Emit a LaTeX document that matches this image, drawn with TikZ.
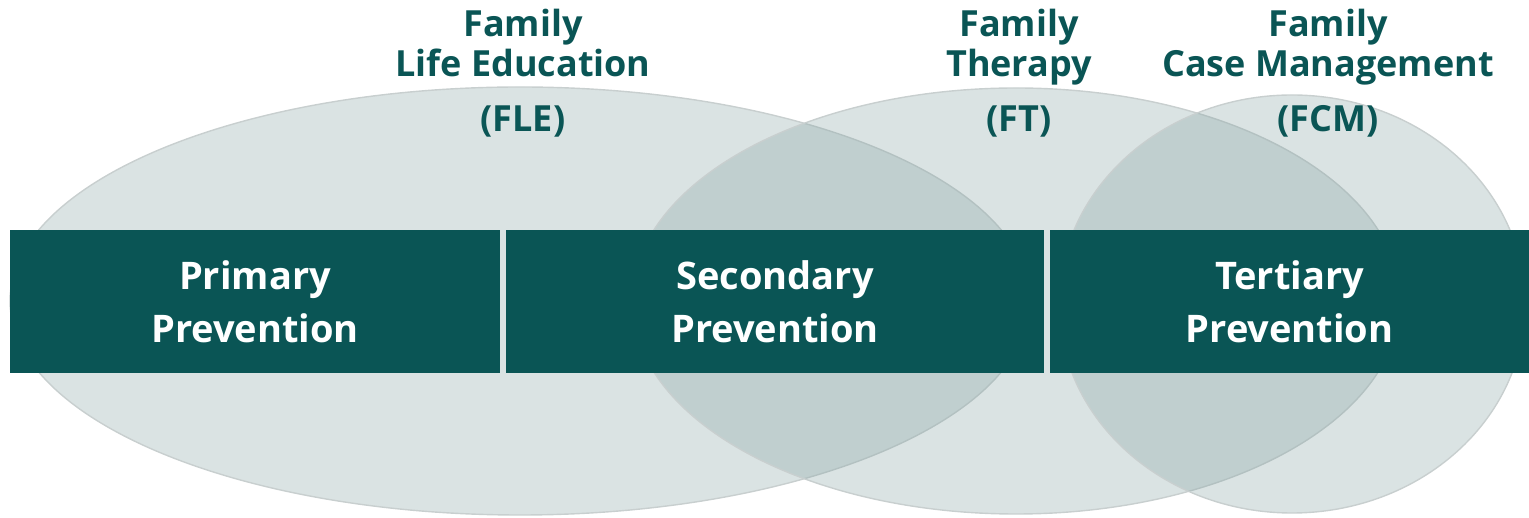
\documentclass[tikz,border=0pt]{standalone}
\usepackage{fontspec}
\setmainfont{Open Sans}
\usepackage{tikz}
\definecolor{verde}{HTML}{0A5555}
\definecolor{gris}{HTML}{84A2A2}
\definecolor{borde}{HTML}{C8CFCF}

\begin{document}
\begin{tikzpicture}[x=0.5pt,y=0.5pt,
  elipse/.style={fill=gris, fill opacity=0.3, draw=borde, line width=0.7pt},
  banda/.style={fill=verde, text=white, inner sep=0pt, minimum height=71.5pt,
    align=center, font=\bfseries\fontsize{19}{26.5}\selectfont},
  titulo/.style={text=verde, inner sep=0pt, anchor=base,
    font=\bfseries\fontsize{18}{21}\selectfont}]
  % Marco
  \useasboundingbox (0,0) rectangle (1529,518);
  % Elipses
  \path[elipse] (520,217) ellipse [x radius=510, y radius=214];
  \path[elipse] (1016,217) ellipse [x radius=384, y radius=213];
  \path[elipse] (1292,214) ellipse [x radius=233, y radius=209];
  % Banda de prevencion
  \foreach \x/\w/\txt/\n in {255/245/Primary/pri, 775/269/Secondary/sec, 1289.5/239.5/Tertiary/ter}
    \node[banda, minimum width=\w pt] (\n) at (\x,216.5) {\txt\\Prevention};
  % Titulos
  \foreach \x/\nom/\sig in {523/Life Education/FLE, 1019/Therapy/FT, 1328/Case Management/FCM} {
    \node[titulo] (fam\sig) at (\x,481) {Family};
    \node[titulo] (nom\sig) at (\x,441) {\nom};
    \node[titulo] (sig\sig) at (\x,386) {(\sig)};
  }
\end{tikzpicture}
\end{document}
